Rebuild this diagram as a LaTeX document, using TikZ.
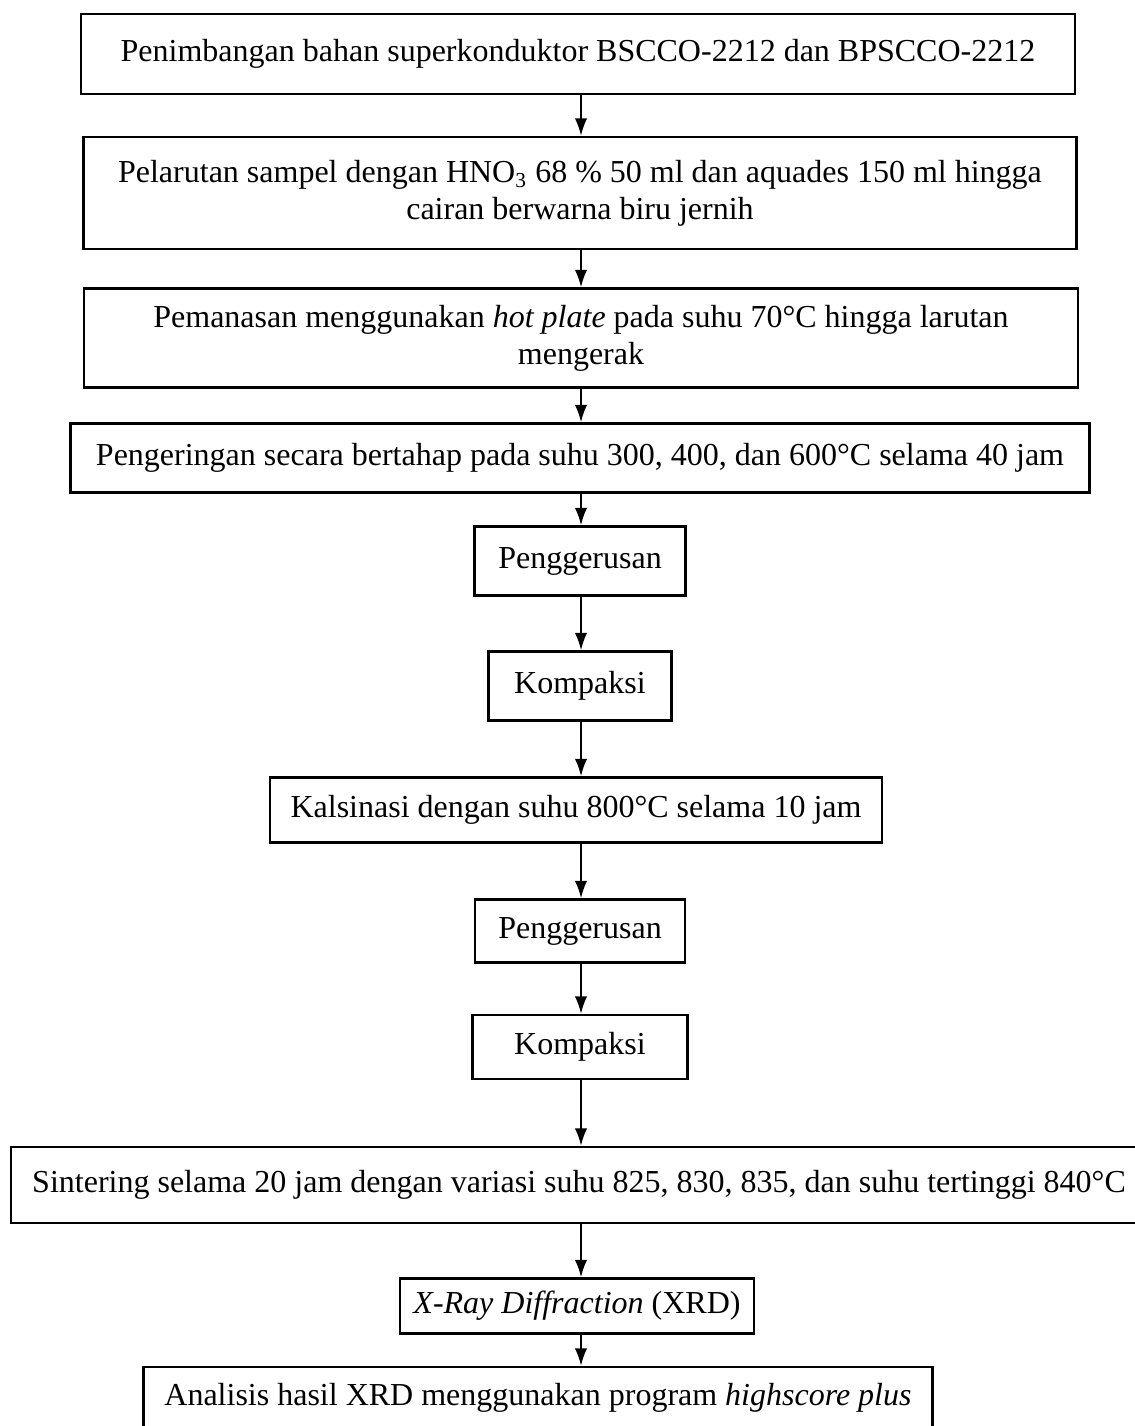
\documentclass[tikz,border=0pt]{standalone}
\usepackage{fontspec}
\setmainfont{Liberation Serif}
\usetikzlibrary{arrows.meta}

\tikzset{
  stepbox/.style 2 args={draw, line width=0.9pt, inner sep=0pt, align=center,
    minimum width=#1*0.375pt, minimum height=#2*0.375pt,
    font=\fontsize{12pt}{13.8pt}\selectfont},
  flow/.style={line width=0.75pt, -{Latex[length=6.5pt,width=4.6pt]}}
}

\begin{document}
\begin{tikzpicture}[x=0.375pt, y=-0.375pt]
\clip (0,0) rectangle (1135,1426);

\coordinate (axis) at (581,0);

\node [stepbox={994}{80}] (timbang) at (578,54)
  {\raisebox{2.6pt}{Penimbangan bahan superkonduktor BSCCO-2212 dan BPSCCO-2212}};
\node [stepbox={993}{112}] (larut) at (580,193)
  {Pelarutan sampel dengan HNO\textsubscript{3} 68 \% 50 ml dan aquades 150 ml hingga\\
   cairan berwarna biru jernih};
\node [stepbox={994}{99}] (panas) at (581,338)
  {Pemanasan menggunakan \textit{hot plate} pada suhu 70°C hingga larutan\\
   mengerak};
\node [stepbox={1019}{69}] (kering) at (580,458)
  {Pengeringan secara bertahap pada suhu 300, 400, dan 600°C selama 40 jam};
\node [stepbox={211}{69}] (gerusA) at (580,561) {Penggerusan};
\node [stepbox={183}{69}] (kompakA) at (580,686) {Kompaksi};
\node [stepbox={612}{65}] (kalsin) at (576,810)
  {Kalsinasi dengan suhu 800°C selama 10 jam};
\node [stepbox={210}{63}] (gerusB) at (580,931) {Penggerusan};
\node [stepbox={215}{64}] (kompakB) at (580,1047) {Kompaksi};
\node [stepbox={1136}{76}] (sinter) at (579,1185)
  {Sintering selama 20 jam dengan variasi suhu 825, 830, 835, dan suhu tertinggi 840°C};
\node [stepbox={354}{55}] (xrd) at (577,1306) {\textit{X-Ray Diffraction} (XRD)};
\node [stepbox={789}{62}] (analisis) at (538,1398)
  {Analisis hasil XRD menggunakan program \textit{highscore plus}};

% arrows, all on one vertical line
\foreach \a/\b in {timbang/larut, larut/panas, panas/kering, kering/gerusA,
    gerusA/kompakA, kompakA/kalsin, kalsin/gerusB, gerusB/kompakB,
    kompakB/sinter, sinter/xrd, xrd/analisis}
  \draw[flow] (\a.south -| axis) -- (\b.north -| axis);

\end{tikzpicture}
\end{document}
